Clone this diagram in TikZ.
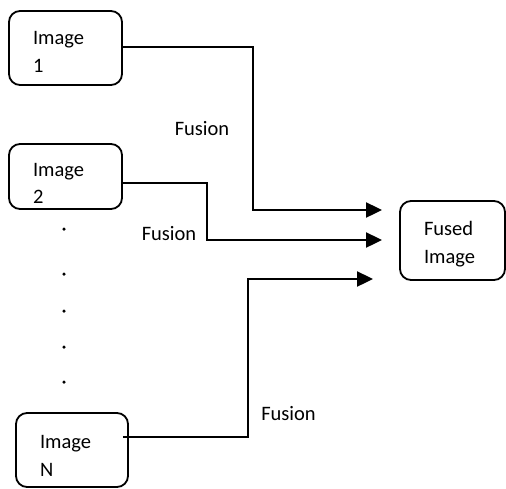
\documentclass[tikz,border=0pt]{standalone}
\usepackage{fontspec}
\setmainfont{Carlito}
\usetikzlibrary{arrows.meta}
\begin{document}
\begin{tikzpicture}[x=1pt,y=-1pt,
  box/.style={draw,line width=1.8pt,rounded corners=11pt,inner sep=0pt},
  txt/.style={align=left,inner sep=0pt,font=\fontsize{20.5}{27.5}\selectfont},
  conn/.style={line width=2.4pt,-{Triangle[length=16pt,width=15pt]}},
  lbl/.style={font=\fontsize{20.5}{24}\selectfont,inner sep=0pt},
  dot/.style={circle,fill=black,inner sep=0pt,minimum size=3.5pt}]
\useasboundingbox (0,0) rectangle (506,488);
\node[box,minimum width=113pt,minimum height=74pt] (b1) at (65.5,48) {};
\node[box,minimum width=113pt,minimum height=65pt] (b2) at (65.5,176.5) {};
\node[box,minimum width=112pt,minimum height=74pt] (bN) at (72,450) {};
\node[box,minimum width=105pt,minimum height=79pt] (f) at (452.5,240.5) {};
\node[txt,text width=65pt] (t1) at ([yshift=-4pt]b1.center) {Image\\1};
\node[txt,text width=65pt] (t2) at ([yshift=-7pt]b2.center) {Image\\2};
\node[txt,text width=64pt] (tN) at ([yshift=-6pt]bN.center) {Image\\N};
\node[txt,text width=57pt] (tf) at ([yshift=-3.5pt]f.center) {Fused\\Image};
\coordinate (a1) at (382,210);
\coordinate (a2) at (382,240);
\coordinate (a3) at (373,279);
\draw[conn] ([yshift=1pt]b1.east) -- ++(130,0) |- (a1);
\draw[conn] ([yshift=-6.5pt]b2.east) -- ++(84,0) |- (a2);
\draw[conn] ([xshift=-6pt,yshift=13pt]bN.east) -- ++(125,0) |- (a3);
\node[lbl] (l1) at (202,129) {Fusion};
\node[lbl] (l2) at (169,234) {Fusion};
\node[lbl] (l3) at (288.5,414) {Fusion};
\foreach \y [count=\i] in {229,274,311,347,382} \node[dot] (d\i) at (64,\y) {};
\end{tikzpicture}
\end{document}
